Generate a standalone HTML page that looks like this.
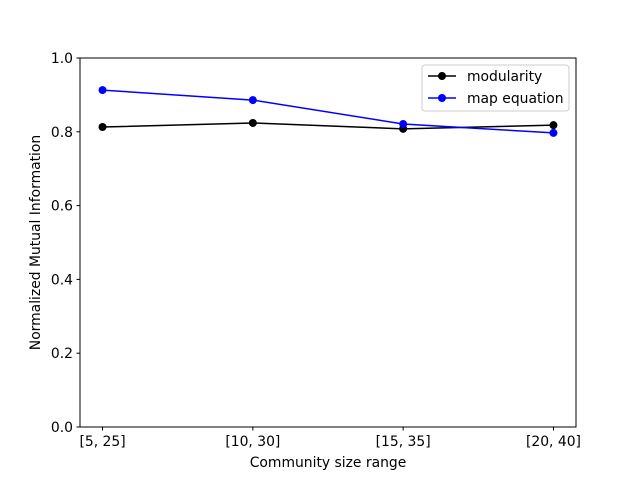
<!DOCTYPE html>
<html><head><meta charset="utf-8"><style>
body{margin:0;background:#fff;}
svg{font-family:"DejaVu Sans","Liberation Sans",sans-serif;}
</style></head><body>
<svg id="chart" width="640" height="480" xmlns="http://www.w3.org/2000/svg">
<rect x="0" y="0" width="640" height="480" fill="#fff"/>
<g id="plot"></g>
</svg>
<script>
const categories = ["[5, 25]", "[10, 30]", "[15, 35]", "[20, 40]"];
const modularity = [0.813, 0.824, 0.808, 0.818];
const mapEquation = [0.913, 0.886, 0.821, 0.797];
const yTicks = [0.0, 0.2, 0.4, 0.6, 0.8, 1.0];
const yTickLabels = ["0.0", "0.2", "0.4", "0.6", "0.8", "1.0"];

const L=80,R=576,T=58,B=427;
const FS=13.9;
const xs=i=>L+(i+0.15)/3.3*(R-L);
const ys=v=>B-v*(B-T);
const NS="http://www.w3.org/2000/svg";
const g=document.getElementById('plot');
function mk(tag,attrs,parent){const e=document.createElementNS(NS,tag);for(const k in attrs)e.setAttribute(k,attrs[k]);(parent||g).appendChild(e);return e;}

const frame=mk('rect',{x:L,y:T,width:R-L,height:B-T,fill:'none',stroke:'#000','stroke-width':1});



yTicks.forEach((v,i)=>{
  const t=mk('line',{x1:L-3.5,x2:L,y1:ys(v),y2:ys(v),stroke:'#000'});
  
  
  const tx=mk('text',{x:L-7,y:ys(v)+5,'font-size':FS,'text-anchor':'end'});
  tx.textContent=yTickLabels[i];
  
  
});
categories.forEach((c,i)=>{
  const t=mk('line',{x1:xs(i),x2:xs(i),y1:B,y2:B+3.5,stroke:'#000'});
  
  
  const tx=mk('text',{x:xs(i),y:B+19,'font-size':FS,'text-anchor':'middle'});
  tx.textContent=c;
  
  
});

function series(vals,color,name){
  const pl=mk('polyline',{points:vals.map((v,i)=>xs(i)+','+ys(v)).join(' '),fill:'none',stroke:color,'stroke-width':1.5});
  
  
  vals.forEach((v,i)=>{
    const c=mk('circle',{cx:xs(i),cy:ys(v),r:4,fill:color});
    
    
  });
}
series(modularity,'#000','modularity');
series(mapEquation,'#0000ff','map-equation');

const xl=mk('text',{x:(L+R)/2,y:467,'font-size':FS,'text-anchor':'middle'});
xl.textContent='Community size range';


const yl=mk('text',{x:0,y:0,'font-size':FS,'text-anchor':'middle',transform:'translate(40,'+((T+B)/2)+') rotate(-90)'});
yl.textContent='Normalized Mutual Information';



const lg=mk('g',{});


mk('rect',{x:422,y:65,width:147,height:46,rx:3,fill:'#fff',stroke:'#ccc'},lg);
[['modularity','#000',76],['map equation','#0000ff',98]].forEach(([n,c,y])=>{
  mk('line',{x1:428,x2:456,y1:y,y2:y,stroke:c,'stroke-width':1.5},lg);
  mk('circle',{cx:442,cy:y,r:4,fill:c},lg);
  const t=mk('text',{x:467,y:y+5,'font-size':FS},lg);
  t.textContent=n;
  
  
});
</script>
</body></html>
